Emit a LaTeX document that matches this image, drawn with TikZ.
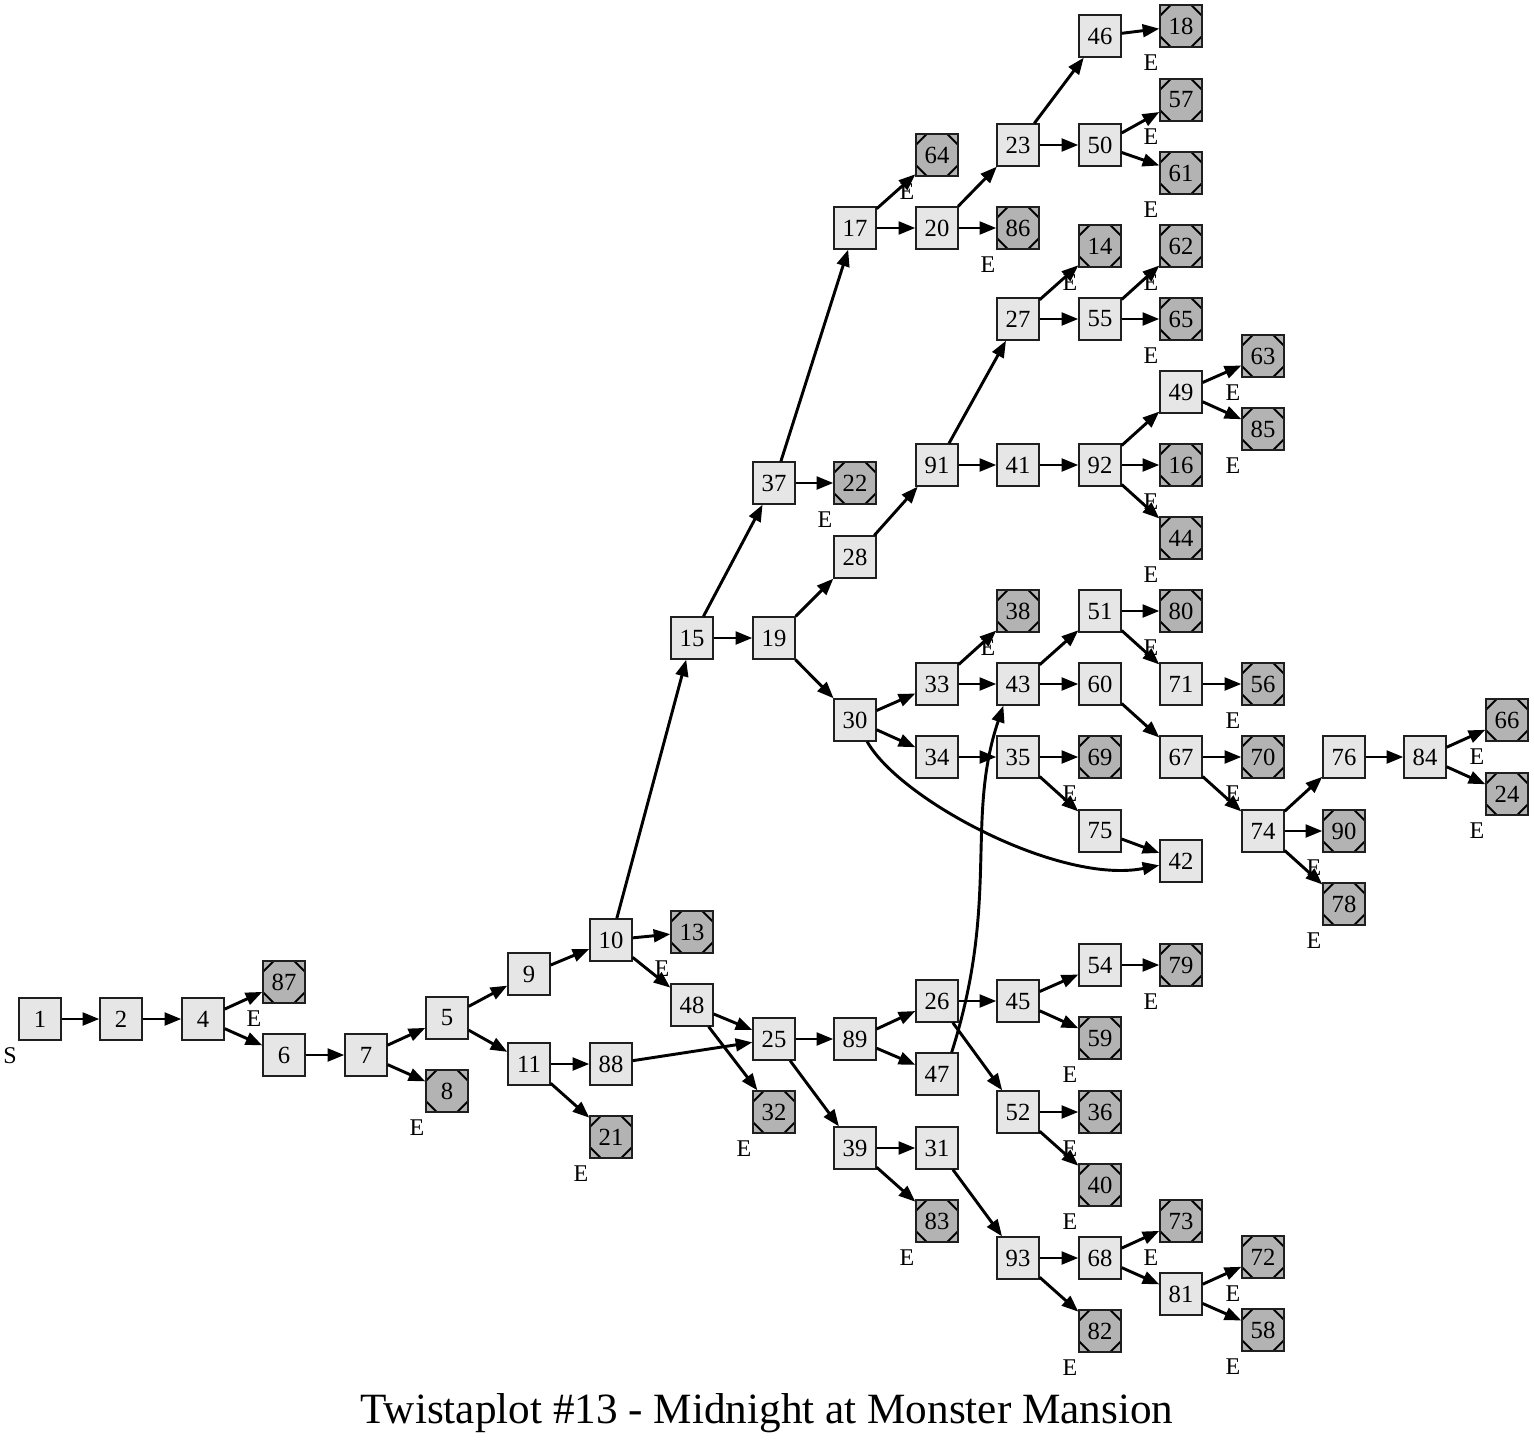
\documentclass[tikz,border=0pt]{standalone}
\usepackage{fontspec}
\setmainfont{Liberation Serif}
\usetikzlibrary{arrows.meta}
\definecolor{boxfill}{HTML}{E6E6E6}
\definecolor{endfill}{HTML}{B3B3B3}
\definecolor{boxline}{HTML}{1F1F1F}

\begin{document}
\begin{tikzpicture}[x=0.75pt, y=-0.75pt,
    box/.style={draw=boxline, fill=boxfill, line width=1.6pt, minimum size=30.9pt, inner sep=0pt, font=\fontsize{18.5}{18.5}\selectfont},
    endbox/.style={box, fill=endfill, path picture={
        \draw[line width=1.5pt, black]
          ([yshift=-7.5pt]path picture bounding box.north west) -- ([xshift=7.5pt]path picture bounding box.north west)
          ([xshift=-7.5pt]path picture bounding box.north east) -- ([yshift=-7.5pt]path picture bounding box.north east)
          ([yshift=7.5pt]path picture bounding box.south east) -- ([xshift=-7.5pt]path picture bounding box.south east)
          ([xshift=7.5pt]path picture bounding box.south west) -- ([yshift=7.5pt]path picture bounding box.south west);}},
    edge/.style={line width=2.2pt, -{Triangle[length=12.5pt, width=9.5pt]}},
    tag/.style={inner sep=0pt, font=\fontsize{18}{18}\selectfont}]
  \useasboundingbox (0,0) rectangle (1534,1448);
  % story nodes
  \foreach \n/\x/\y in {1/40/1019, 2/121/1019, 4/203/1019, 6/284/1055, 7/366/1055, 5/447/1018,
      9/529/974, 11/529/1064, 10/611/940, 88/611/1064, 48/692/1005, 15/692/638,
      37/774/483, 19/774/638, 25/774/1039, 17/855/228, 28/855/557, 30/855/720, 89/855/1039, 39/855/1148,
      20/937/228, 91/937/465, 33/937/684, 34/937/757, 26/937/1001, 47/937/1074, 31/937/1148,
      23/1018/145, 27/1018/319, 41/1018/465, 43/1018/684, 35/1018/757, 45/1018/1001, 52/1018/1112, 93/1018/1258,
      46/1100/36, 50/1100/145, 55/1100/319, 92/1100/465, 51/1100/611, 60/1100/684, 75/1100/831, 54/1100/965, 68/1100/1258,
      49/1181/392, 71/1181/684, 67/1181/757, 42/1181/861, 81/1181/1294,
      74/1263/831, 76/1344/757, 84/1425/757}
    \node[box] (n\n) at (\x,\y) {\n};
  % endings
  \foreach \n/\x/\y in {87/284/982, 8/447/1091, 13/692/932, 21/611/1137, 32/774/1112, 22/855/483,
      64/937/155, 86/1018/228, 83/937/1221, 18/1181/26, 57/1181/100, 61/1181/173, 14/1100/246,
      62/1181/246, 65/1181/319, 16/1181/465, 44/1181/538, 38/1018/611, 80/1181/611, 69/1100/757,
      79/1181/965, 59/1100/1038, 36/1100/1112, 40/1100/1185, 73/1181/1221, 82/1100/1331,
      63/1263/356, 85/1263/429, 56/1263/684, 70/1263/757, 90/1344/831, 78/1344/904,
      72/1263/1257, 58/1263/1330, 66/1507/720, 24/1507/794}
    {\node[endbox] (n\n) at (\x,\y) {\n};
     \node[tag] (e\n) at ([shift={(-30,37)}]n\n) {E};}
  \node[tag] (s1) at ([shift={(-30,37)}]n1) {S};
  % choices
  \foreach \a/\b in {1/2, 2/4, 4/87, 4/6, 6/7, 7/5, 7/8, 5/9, 5/11, 9/10, 11/88, 11/21, 10/15, 10/13,
      10/48, 48/25, 48/32, 88/25, 15/37, 15/19, 37/17, 37/22, 17/64, 17/20, 20/23, 20/86, 23/46,
      23/50, 46/18, 50/57, 50/61, 19/28, 19/30, 28/91, 91/27, 91/41, 27/14, 27/55, 55/62, 55/65,
      41/92, 92/49, 92/16, 92/44, 49/63, 49/85, 30/33, 30/34, 33/38, 33/43, 43/51, 43/60, 51/80,
      51/71, 71/56, 60/67, 67/70, 67/74, 74/76, 74/90, 74/78, 76/84, 84/66, 84/24, 34/35, 35/69,
      35/75, 75/42, 25/89, 25/39, 89/26, 89/47, 26/45, 26/52, 45/54, 45/59, 54/79, 52/36, 52/40,
      39/31, 39/83, 31/93, 93/68, 93/82, 68/73, 68/81, 81/72, 81/58}
    \draw[edge] (n\a) -- (n\b);
  \draw[edge] (n30) .. controls (900,800) and (1060,885) .. (n42);
  \draw[edge] ([xshift=11pt]n47.north) .. controls (1000,900) and (965,820) .. ([xshift=-11pt]n43.south);
  \node[anchor=base, font=\fontsize{32.4}{32.4}\selectfont] (title) at (767,1423) {Twistaplot \#13 - Midnight at Monster Mansion};
\end{tikzpicture}
\end{document}
